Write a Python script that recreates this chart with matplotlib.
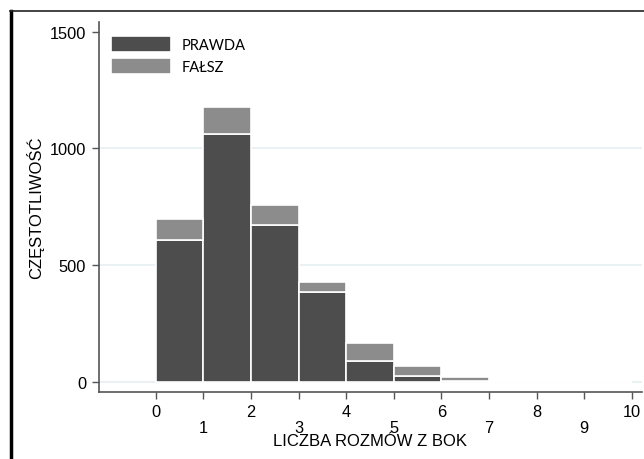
import numpy as np
import matplotlib
matplotlib.use('Agg')
import matplotlib.pyplot as plt
from matplotlib.lines import Line2D

plt.rcParams['font.family'] = ['Liberation Sans', 'DejaVu Sans']

# counts per bin (bin edges 0..10)
bins = np.arange(0, 10)
prawda = [606, 1060, 673, 384, 90, 26, 4, 0, 0, 0]
falsz = [90, 117, 83, 42, 76, 40, 16, 0, 0, 0]
even_ticks = [0, 2, 4, 6, 8, 10]
odd_ticks = [1, 3, 5, 7, 9]
y_ticks = [0, 500, 1000, 1500]
grid_levels = [0, 500, 1000]

dark = '#4d4d4d'
light = '#8c8c8c'

fig = plt.figure(figsize=(6.44, 4.6), dpi=100)
ax = fig.add_axes([0.1533, 0.1463, 0.8431, 0.8037])

for g in grid_levels:
    ax.axhline(g, color='#e6eff1', lw=1.2, zorder=0)

ax.bar(bins, prawda, width=1, align='edge', color=dark, edgecolor='white',
       linewidth=1.2, label='PRAWDA', zorder=2)
ax.bar(bins, falsz, width=1, align='edge', bottom=prawda, color=light,
       edgecolor='white', linewidth=1.2, label='FAŁSZ', zorder=2)

ax.set_xlim(-1.2, 10.21)
ax.set_ylim(-43, 1541)

ax.spines['top'].set_visible(False)
ax.spines['right'].set_visible(False)
for s in ['left', 'bottom']:
    ax.spines[s].set_color('#555555')
    ax.spines[s].set_linewidth(1.2)

ax.set_yticks(y_ticks)
ax.tick_params(axis='y', direction='out', length=5, width=1, color='#555555',
               pad=4, labelsize=11.8)

# staggered x tick labels: even numbers on the first row, odd below
ax.set_xticks(even_ticks)
ax.set_xticks(odd_ticks, minor=True)
ax.set_xticklabels([str(v) for v in even_ticks])
ax.set_xticklabels([str(v) for v in odd_ticks], minor=True)
ax.tick_params(axis='x', which='major', direction='out', length=5, width=1,
               color='#555555', pad=3.5, labelsize=11.8)
ax.tick_params(axis='x', which='minor', direction='out', length=5, width=1,
               color='#555555', pad=15.5, labelsize=11.8)

ax.set_xlabel('LICZBA ROZMÓW Z BOK', fontsize=12)
ax.xaxis.set_label_coords(0.5, -0.112)
ax.set_ylabel('CZĘSTOTLIWOŚĆ', fontsize=12)
ax.yaxis.set_label_coords(-0.1, 0.5)

leg = ax.legend(loc='upper left', bbox_to_anchor=(0.023, 0.962), frameon=False,
                handlelength=4.1, handleheight=1.3, labelspacing=0.4,
                handletextpad=0.75, borderaxespad=0, borderpad=0,
                prop={'family': ['Lato', 'DejaVu Sans'], 'size': 10.5})

# outer frame lines
fig.add_artist(Line2D([0.017, 0.017], [0.0, 0.974], color='black', lw=2.5,
                      transform=fig.transFigure))
fig.add_artist(Line2D([0.015, 1.0], [0.974, 0.974], color='#222222', lw=1.2,
                      transform=fig.transFigure))

fig.savefig('out.png', dpi=100)
